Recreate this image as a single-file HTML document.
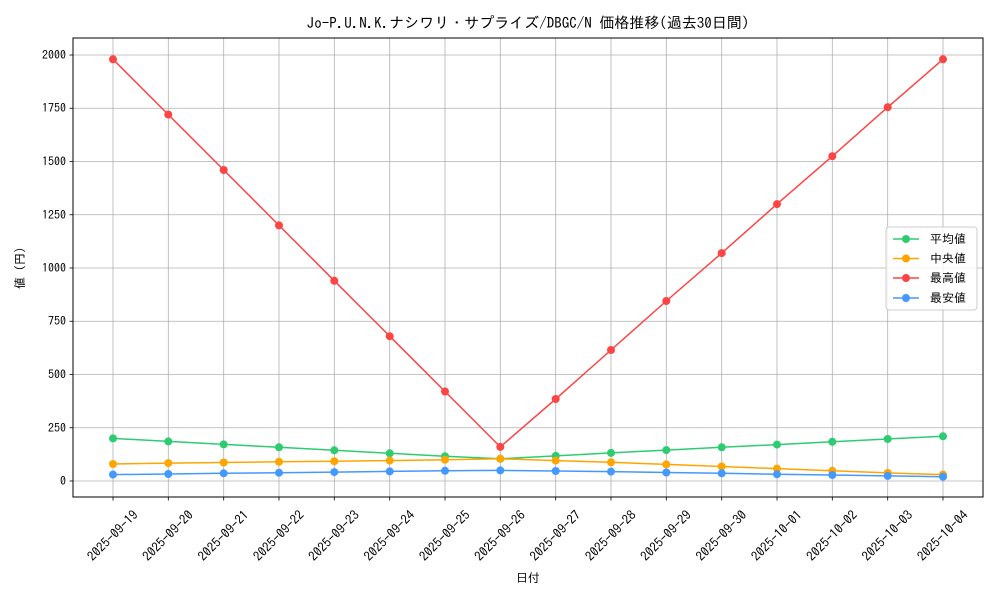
<!DOCTYPE html>
<html><head><meta charset="utf-8"><style>
html,body{margin:0;padding:0;background:#fff}
svg{display:block;font-family:"IPAGothic","Noto Sans CJK JP","Liberation Sans",sans-serif}
</style></head><body>
<svg width="1000" height="600" viewBox="0 0 1000 600" xmlns="http://www.w3.org/2000/svg">
<rect width="1000" height="600" fill="#fff"/>
<text x="528" y="28" font-size="15" text-anchor="middle">Jo-P.U.N.K.ナシワリ・サプライズ/DBGC/N 価格推移(過去30日間)</text>
<g stroke="#b0b0b0" stroke-width="0.8">
<line x1="73" x2="983" y1="481" y2="481"/><line x1="73" x2="983" y1="427.75" y2="427.75"/><line x1="73" x2="983" y1="374.5" y2="374.5"/><line x1="73" x2="983" y1="321.25" y2="321.25"/><line x1="73" x2="983" y1="268" y2="268"/><line x1="73" x2="983" y1="214.75" y2="214.75"/><line x1="73" x2="983" y1="161.5" y2="161.5"/><line x1="73" x2="983" y1="108.25" y2="108.25"/><line x1="73" x2="983" y1="55" y2="55"/>
<line y1="38" y2="497" x1="113" x2="113"/><line y1="38" y2="497" x1="168.3" x2="168.3"/><line y1="38" y2="497" x1="223.7" x2="223.7"/><line y1="38" y2="497" x1="279" x2="279"/><line y1="38" y2="497" x1="334.3" x2="334.3"/><line y1="38" y2="497" x1="389.7" x2="389.7"/><line y1="38" y2="497" x1="445" x2="445"/><line y1="38" y2="497" x1="500.3" x2="500.3"/><line y1="38" y2="497" x1="555.7" x2="555.7"/><line y1="38" y2="497" x1="611" x2="611"/><line y1="38" y2="497" x1="666.3" x2="666.3"/><line y1="38" y2="497" x1="721.7" x2="721.7"/><line y1="38" y2="497" x1="777" x2="777"/><line y1="38" y2="497" x1="832.3" x2="832.3"/><line y1="38" y2="497" x1="887.7" x2="887.7"/><line y1="38" y2="497" x1="943" x2="943"/>
</g>
<rect x="73" y="38" width="910" height="459" fill="none" stroke="#000" stroke-width="1"/>
<g stroke="#000" stroke-width="0.8">
<line x1="69.5" x2="73" y1="481" y2="481"/><line x1="69.5" x2="73" y1="427.75" y2="427.75"/><line x1="69.5" x2="73" y1="374.5" y2="374.5"/><line x1="69.5" x2="73" y1="321.25" y2="321.25"/><line x1="69.5" x2="73" y1="268" y2="268"/><line x1="69.5" x2="73" y1="214.75" y2="214.75"/><line x1="69.5" x2="73" y1="161.5" y2="161.5"/><line x1="69.5" x2="73" y1="108.25" y2="108.25"/><line x1="69.5" x2="73" y1="55" y2="55"/>
</g>
<g font-size="12" text-anchor="end">
<text x="66" y="485">0</text><text x="66" y="432">250</text><text x="66" y="378.5">500</text><text x="66" y="325">750</text><text x="66" y="272">1000</text><text x="66" y="219">1250</text><text x="66" y="165.5">1500</text><text x="66" y="112">1750</text><text x="66" y="59">2000</text>
</g>
<text transform="translate(24,268) rotate(-90)" font-size="12" text-anchor="middle">値 (円)</text>
<text x="528" y="582" font-size="12" text-anchor="middle">日付</text>
<g font-size="13" text-anchor="middle">
<text transform="translate(113,536) rotate(-45)" dy="4">2025-09-19</text>
<text transform="translate(168.3,536) rotate(-45)" dy="4">2025-09-20</text>
<text transform="translate(223.7,536) rotate(-45)" dy="4">2025-09-21</text>
<text transform="translate(279,536) rotate(-45)" dy="4">2025-09-22</text>
<text transform="translate(334.3,536) rotate(-45)" dy="4">2025-09-23</text>
<text transform="translate(389.7,536) rotate(-45)" dy="4">2025-09-24</text>
<text transform="translate(445,536) rotate(-45)" dy="4">2025-09-25</text>
<text transform="translate(500.3,536) rotate(-45)" dy="4">2025-09-26</text>
<text transform="translate(555.7,536) rotate(-45)" dy="4">2025-09-27</text>
<text transform="translate(611,536) rotate(-45)" dy="4">2025-09-28</text>
<text transform="translate(666.3,536) rotate(-45)" dy="4">2025-09-29</text>
<text transform="translate(721.7,536) rotate(-45)" dy="4">2025-09-30</text>
<text transform="translate(777,536) rotate(-45)" dy="4">2025-10-01</text>
<text transform="translate(832.3,536) rotate(-45)" dy="4">2025-10-02</text>
<text transform="translate(887.7,536) rotate(-45)" dy="4">2025-10-03</text>
<text transform="translate(943,536) rotate(-45)" dy="4">2025-10-04</text>
</g>
<g stroke="#000" stroke-width="0.8">
<line y1="497" y2="500.5" x1="113" x2="113"/><line y1="497" y2="500.5" x1="168.3" x2="168.3"/><line y1="497" y2="500.5" x1="223.7" x2="223.7"/><line y1="497" y2="500.5" x1="279" x2="279"/><line y1="497" y2="500.5" x1="334.3" x2="334.3"/><line y1="497" y2="500.5" x1="389.7" x2="389.7"/><line y1="497" y2="500.5" x1="445" x2="445"/><line y1="497" y2="500.5" x1="500.3" x2="500.3"/><line y1="497" y2="500.5" x1="555.7" x2="555.7"/><line y1="497" y2="500.5" x1="611" x2="611"/><line y1="497" y2="500.5" x1="666.3" x2="666.3"/><line y1="497" y2="500.5" x1="721.7" x2="721.7"/><line y1="497" y2="500.5" x1="777" x2="777"/><line y1="497" y2="500.5" x1="832.3" x2="832.3"/><line y1="497" y2="500.5" x1="887.7" x2="887.7"/><line y1="497" y2="500.5" x1="943" x2="943"/>
</g>
<defs>
<marker id="mg" markerWidth="10" markerHeight="10" refX="5" refY="5" markerUnits="userSpaceOnUse"><circle cx="5" cy="5" r="4" fill="#2ecc71"/></marker>
<marker id="mo" markerWidth="10" markerHeight="10" refX="5" refY="5" markerUnits="userSpaceOnUse"><circle cx="5" cy="5" r="4" fill="#ffa500"/></marker>
<marker id="mr" markerWidth="10" markerHeight="10" refX="5" refY="5" markerUnits="userSpaceOnUse"><circle cx="5" cy="5" r="4" fill="#ff4444"/></marker>
<marker id="mb" markerWidth="10" markerHeight="10" refX="5" refY="5" markerUnits="userSpaceOnUse"><circle cx="5" cy="5" r="4" fill="#4499ff"/></marker>
</defs>
<g fill="none" stroke-width="1.5">
<polyline stroke="#2ecc71" marker-start="url(#mg)" marker-mid="url(#mg)" marker-end="url(#mg)" points="113,438.4 168.3,441.4 223.7,444.4 279,447.3 334.3,450.3 389.7,453.3 445,456.3 500.3,458.8 555.7,455.9 611,452.9 666.3,450.1 721.7,447.3 777,444.6 832.3,441.8 887.7,439 943,436.3"/>
<polyline stroke="#ffa500" marker-start="url(#mo)" marker-mid="url(#mo)" marker-end="url(#mo)" points="113,464 168.3,463.1 223.7,462.5 279,461.8 334.3,461.2 389.7,460.6 445,459.7 500.3,458.8 555.7,460.6 611,462.3 666.3,464.4 721.7,466.5 777,468.6 832.3,470.8 887.7,472.9 943,474.6"/>
<polyline stroke="#ff4444" marker-start="url(#mr)" marker-mid="url(#mr)" marker-end="url(#mr)" points="113,59.3 168.3,114.6 223.7,170 279,225.4 334.3,280.8 389.7,336.2 445,391.5 500.3,446.9 555.7,399 611,350 666.3,301 721.7,253.1 777,204.1 832.3,156.2 887.7,107.2 943,59.3"/>
<polyline stroke="#4499ff" marker-start="url(#mb)" marker-mid="url(#mb)" marker-end="url(#mb)" points="113,474.6 168.3,474 223.7,473.3 279,472.7 334.3,472.1 389.7,471.4 445,470.8 500.3,470.4 555.7,471 611,471.6 666.3,472.5 721.7,473.3 777,474.2 832.3,475 887.7,475.9 943,476.7"/>
</g>
<rect x="886" y="227" width="91" height="83" rx="3" fill="#fff" fill-opacity="0.8" stroke="#ccc"/>
<g stroke-width="1.5">
<line x1="893" x2="919" y1="239" y2="239" stroke="#2ecc71"/><circle cx="906" cy="239" r="4" fill="#2ecc71"/>
<line x1="893" x2="919" y1="258.5" y2="258.5" stroke="#ffa500"/><circle cx="906" cy="258.5" r="4" fill="#ffa500"/>
<line x1="893" x2="919" y1="278" y2="278" stroke="#ff4444"/><circle cx="906" cy="278" r="4" fill="#ff4444"/>
<line x1="893" x2="919" y1="298" y2="298" stroke="#4499ff"/><circle cx="906" cy="298" r="4" fill="#4499ff"/>
</g>
<g font-size="12">
<text x="930" y="243">平均値</text><text x="930" y="262.5">中央値</text><text x="930" y="282">最高値</text><text x="930" y="302">最安値</text>
</g>
</svg>
</body></html>
